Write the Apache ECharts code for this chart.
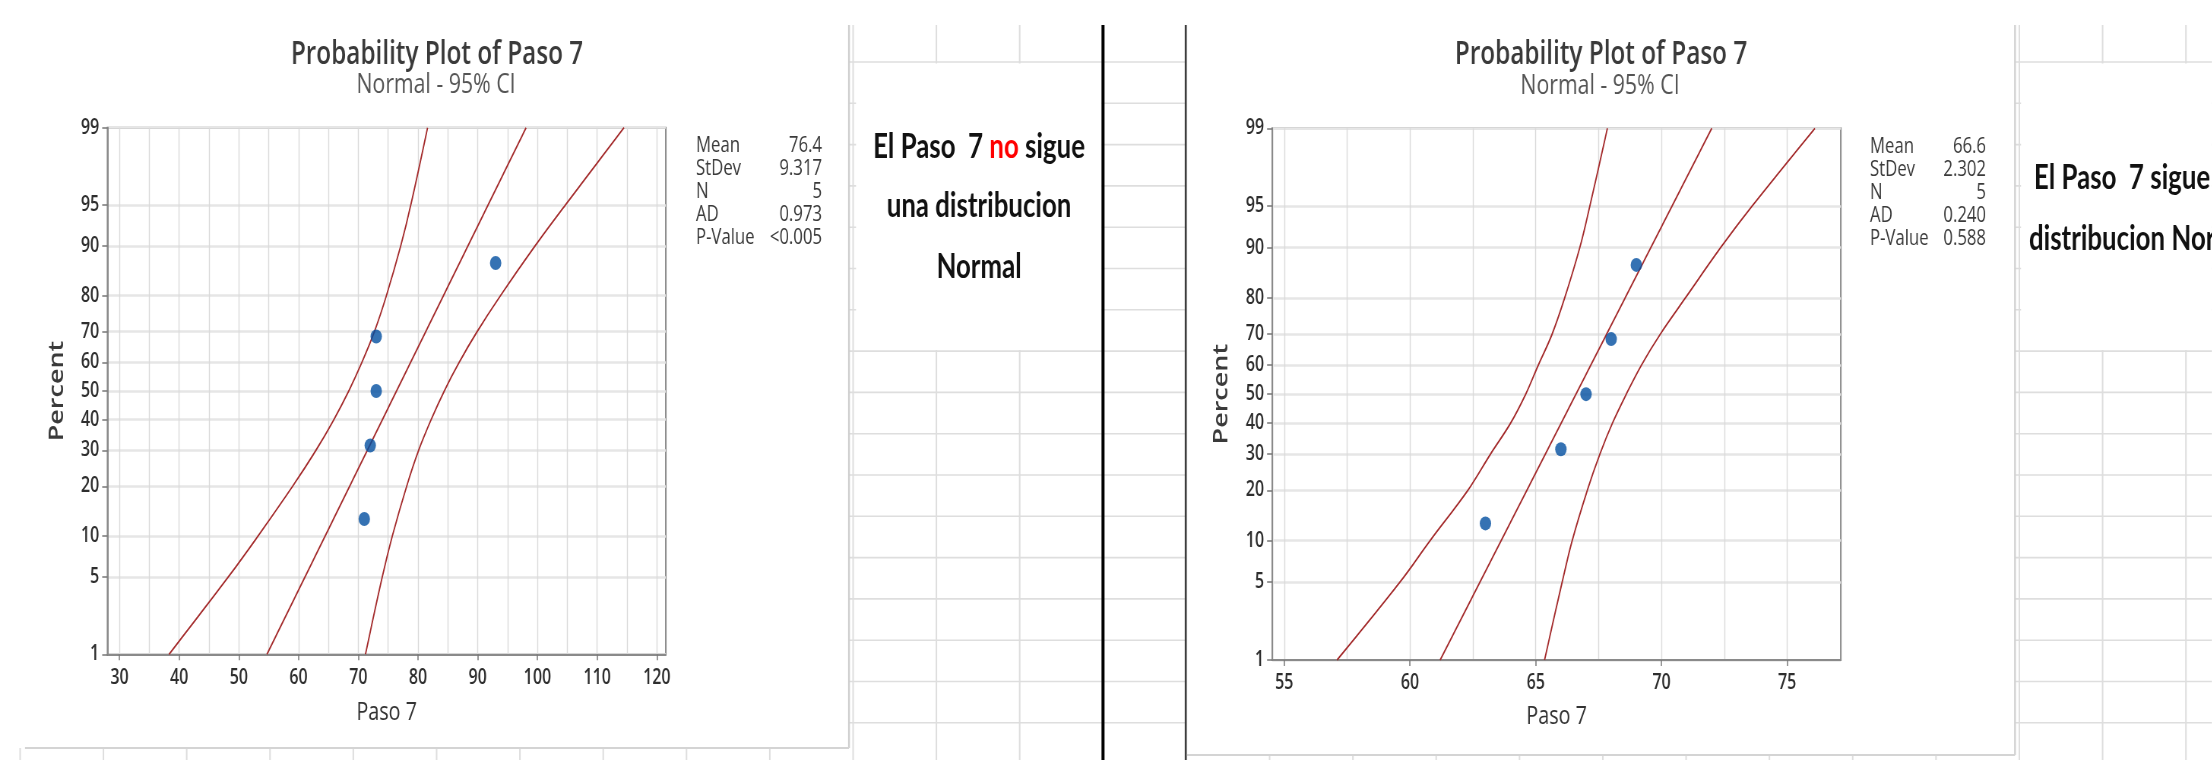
<!DOCTYPE html>
<html><head><meta charset="utf-8">
<script src="https://cdn.jsdelivr.net/npm/echarts@6/dist/echarts.min.js"></script>
<style>
html,body{margin:0;padding:0;overflow:hidden;background:#fff;width:2212px;height:760px}
#c{width:2911px;height:760px;transform:scaleX(0.76);transform-origin:0 0}
</style>
</head><body><div id="c"></div>
<script>
// ---------------- data ----------------
const PCT_TICKS = [1, 5, 10, 20, 30, 40, 50, 60, 70, 80, 90, 95, 99];
const LEFT_X_TICKS = [30, 40, 50, 60, 70, 80, 90, 100, 110, 120];
const LEFT_X_GRID = [30, 35, 40, 45, 50, 55, 60, 65, 70, 75, 80, 85, 90, 95, 100, 105, 110, 115, 120];
const RIGHT_X_TICKS = [55, 60, 65, 70, 75];
const RIGHT_X_GRID = [55, 57.5, 60, 62.5, 65, 67.5, 70, 72.5, 75];

const PLOT_PCT = [12.9, 31.5, 50, 68.5, 87.1];
const LEFT_VALUES = [71, 72, 73, 73, 93];
const RIGHT_VALUES = [63, 66, 67, 68, 69];

const FIT_PCT = [1, 99];
const LEFT_FIT = [54.7, 98.1];
const RIGHT_FIT = [61.2, 72.0];

// CI bounds read at each PCT_TICKS level
const LEFT_CI_LOW  = [38.3, 48.2, 53.2, 59.0, 62.9, 65.9, 68.4, 70.6, 72.7, 74.7, 77.1, 78.8, 81.6];
const LEFT_CI_HIGH = [71.2, 74.0, 75.7, 78.1, 80.1, 82.2, 84.4, 86.9, 89.9, 93.8, 99.6, 104.7, 114.5];
const RIGHT_CI_LOW  = [57.1, 59.6, 60.8, 62.3, 63.2, 64.0, 64.6, 65.1, 65.65, 66.15, 66.75, 67.15, 67.85];
const RIGHT_CI_HIGH = [65.35, 66.05, 66.45, 67.05, 67.55, 68.05, 68.6, 69.2, 69.95, 70.95, 72.35, 73.6, 76.1];

const STAT_LABELS = ['Mean', 'StDev', 'N', 'AD', 'P-Value'];
const LEFT_STATS = ['76.4', '9.317', '5', '0.973', '<0.005'];
const RIGHT_STATS = ['66.6', '2.302', '5', '0.240', '0.588'];

const TITLE = 'Probability Plot of Paso 7';
const SUBTITLE = 'Normal - 95% CI';
const X_NAME = 'Paso 7';
const Y_NAME = 'Percent';

// ---------------- helpers ----------------
function probit(p){
  const a=[-3.969683028665376e+01,2.209460984245205e+02,-2.759285104469687e+02,1.383577518672690e+02,-3.066479806614716e+01,2.506628277459239e+00];
  const b=[-5.447609879822406e+01,1.615858368580409e+02,-1.556989798598866e+02,6.680131188771972e+01,-1.328068155288572e+01];
  const c=[-7.784894002430293e-03,-3.223964580411365e-01,-2.400758277161838e+00,-2.549732539343734e+00,4.374664141464968e+00,2.938163982698783e+00];
  const d=[7.784695709041462e-03,3.224671290700398e-01,2.445134137142996e+00,3.754408661907416e+00];
  const pl=0.02425, ph=1-pl; let q, r;
  if(p<pl){q=Math.sqrt(-2*Math.log(p));return (((((c[0]*q+c[1])*q+c[2])*q+c[3])*q+c[4])*q+c[5])/((((d[0]*q+d[1])*q+d[2])*q+d[3])*q+1);}
  if(p<=ph){q=p-0.5;r=q*q;return (((((a[0]*r+a[1])*r+a[2])*r+a[3])*r+a[4])*r+a[5])*q/(((((b[0]*r+b[1])*r+b[2])*r+b[3])*r+b[4])*r+1);}
  q=Math.sqrt(-2*Math.log(1-p));return -(((((c[0]*q+c[1])*q+c[2])*q+c[3])*q+c[4])*q+c[5])/((((d[0]*q+d[1])*q+d[2])*q+d[3])*q+1);
}
const Z = p => probit(p / 100);
const Z_TICKS = PCT_TICKS.map(Z);
const Z_MIN = Z(1), Z_MAX = Z(99);
function pctLabel(v){
  for (let i = 0; i < Z_TICKS.length; i++) if (Math.abs(Z_TICKS[i] - v) < 1e-6) return String(PCT_TICKS[i]);
  return '';
}

const S = 0.76;            // horizontal squeeze of the reference
const X = v => v / S;      // full-image x -> logical x

const MT_FONT = '"Open Sans", "Noto Sans", sans-serif';
const XL_FONT = 'Lato, "Open Sans", sans-serif';
const LINE_RED = '#a3292a';
const DOT_BLUE = '#024fa0';
const FRAME = '#8a8a8a';

// ---------------- axes ----------------
function xAxes(gi, min, max, ticks, gridVals, nameGap){
  return [
    { gridIndex: gi, type: 'value', min, max, position: 'bottom',
      name: X_NAME, nameLocation: 'middle', nameGap,
      nameTextStyle: { fontFamily: MT_FONT, fontSize: 26, color: '#333' },
      axisLine: { show: true, onZero: false, lineStyle: { color: FRAME, width: 2 } },
      axisTick: { show: true, length: 6, customValues: ticks, lineStyle: { color: '#777', width: 1.5 } },
      axisLabel: { customValues: ticks, margin: 13, fontFamily: MT_FONT, fontSize: 21, fontWeight: 600, color: '#2e2e2e' },
      splitLine: { show: false } },
    { gridIndex: gi, type: 'value', min, max, position: 'bottom',
      axisLine: { show: false }, axisLabel: { show: false },
      axisTick: { show: false, customValues: gridVals },
      splitLine: { show: true, lineStyle: { color: '#dadada', width: 1.4 } } }
  ];
}
function yAxis(gi){
  return { gridIndex: gi, type: 'value', min: Z_MIN, max: Z_MAX,
    name: Y_NAME, nameLocation: 'middle', nameGap: 53, nameRotate: 90,
    nameTextStyle: { fontFamily: MT_FONT, fontSize: 27, fontWeight: 600, color: '#3a3a3a' },
    axisLine: { show: true, onZero: false, lineStyle: { color: FRAME, width: 2 } },
    axisTick: { show: true, length: 7, customValues: Z_TICKS, lineStyle: { color: '#777', width: 1.5 } },
    axisLabel: { customValues: Z_TICKS, formatter: pctLabel, margin: 11, fontFamily: MT_FONT, fontSize: 21, fontWeight: 600, color: '#2e2e2e' },
    splitLine: { show: true, lineStyle: { color: '#e6e6e6', width: 2.6 } } };
}

function plotSeries(xi, yi, values, fit, low, high){
  const lineBase = { type: 'line', xAxisIndex: xi, yAxisIndex: yi, showSymbol: false, symbol: 'none',
    smooth: 0.35, lineStyle: { color: LINE_RED, width: 1.8 }, z: 3, silent: true };
  return [
    Object.assign({}, lineBase, { name: 'CI low', data: PCT_TICKS.map((p, i) => [low[i], Z(p)]) }),
    Object.assign({}, lineBase, { name: 'CI high', data: PCT_TICKS.map((p, i) => [high[i], Z(p)]) }),
    Object.assign({}, lineBase, { name: 'Fit', smooth: false, data: FIT_PCT.map((p, i) => [fit[i], Z(p)]) }),
    { type: 'scatter', name: 'Paso 7', xAxisIndex: xi, yAxisIndex: yi, symbol: 'circle', symbolSize: [15, 14],
      itemStyle: { color: DOT_BLUE }, z: 5,
      data: values.map((v, i) => [v, Z(PLOT_PCT[i])]) }
  ];
}

// ---------------- background graphics (spreadsheet) ----------------
const G = [];
const ROW0 = 62, ROWH = 41.3, COL0 = 20.1, COLW = 83.3;
for (let k = 0; k < 17; k++) {
  const y = ROW0 + k * ROWH;
  G.push({ type: 'line', z: -30, silent: true, shape: { x1: 0, y1: y, x2: X(2212), y2: y }, style: { stroke: '#dedede', lineWidth: 1.6 } });
}
for (let k = 0; k < 27; k++) {
  const x = X(COL0 + k * COLW);
  G.push({ type: 'line', z: -30, silent: true, shape: { x1: x, y1: 25, x2: x, y2: 760 }, style: { stroke: '#dedede', lineWidth: 2 } });
}
function rect(x1, y1, x2, y2, z){
  G.push({ type: 'rect', z: z || -20, silent: true, shape: { x: X(x1), y: y1, width: X(x2) - X(x1), height: y2 - y1 }, style: { fill: '#ffffff' } });
}
function vline(x, y1, y2, color, w){
  G.push({ type: 'line', z: -10, silent: true, shape: { x1: X(x), y1, x2: X(x), y2 }, style: { stroke: color, lineWidth: w } });
}
function hline(x1, x2, y, color, w){
  G.push({ type: 'line', z: -10, silent: true, shape: { x1: X(x1), y1: y, x2: X(x2), y2: y }, style: { stroke: color, lineWidth: w } });
}
// left chart panel
rect(0, 0, 849, 748);
vline(849, 25, 748, '#cfcfcf', 2.4);
hline(25, 849, 748, '#d4d4d4', 2);
// left text box
rect(856, 63.5, 1101.5, 350);
// separators
vline(1103, 25, 760, '#000000', 4);
// right chart panel
rect(1187, 0, 2015, 755);
vline(1185.7, 25, 760, '#3d3d3d', 2.6);
vline(2015, 25, 755, '#d2d2d2', 2.4);
hline(1187, 2015, 755, '#d4d4d4', 2);
// right text box
rect(2021, 63.5, 2212, 350);

// ---------------- texts ----------------
function txt(x, y, text, size, color, align, weight){
  G.push({ type: 'text', z: 10, silent: true, x: X(x), y,
    style: { text, fontFamily: MT_FONT, fontSize: size, fontWeight: weight || 'normal', fill: color,
      align: align || 'center', verticalAlign: 'middle', textAlign: align || 'center', textVerticalAlign: 'middle' } });
}
// titles
txt(437, 55, TITLE, 32, '#3a3a3a', 'center', 600);
txt(436, 85, SUBTITLE, 28, '#555555');
txt(1601, 55, TITLE, 32, '#3a3a3a', 'center', 600);
txt(1600, 86, SUBTITLE, 28, '#555555');
// stats
STAT_LABELS.forEach((lab, i) => {
  const y = 146 + i * 23;
  txt(696, y, lab, 22, '#3a3a3a', 'left');
  txt(822, y, LEFT_STATS[i], 22, '#3a3a3a', 'right');
  txt(1870, y + 1, lab, 22, '#3a3a3a', 'left');
  txt(1986, y + 1, RIGHT_STATS[i], 22, '#3a3a3a', 'right');
});
// comment boxes
const richBase = { fontFamily: XL_FONT, fontSize: 34, fontWeight: 'bold', fill: '#111111' };
function rtxt(x, y, text, align){
  G.push({ type: 'text', z: 10, silent: true, x: X(x), y,
    style: { text, align, verticalAlign: 'middle', textAlign: align, textVerticalAlign: 'middle',
      fontFamily: XL_FONT, fontSize: 34, fontWeight: 'bold', fill: '#111111',
      rich: { b: richBase, r: Object.assign({}, richBase, { fill: '#ff0000' }) } } });
}
rtxt(979, 147, '{b|El Paso  7 }{r|no}{b| sigue}', 'center');
rtxt(979, 206, '{b|una distribucion}', 'center');
rtxt(979, 267, '{b|Normal}', 'center');
rtxt(2034, 178, '{b|El Paso  7 sigue una}', 'left');
rtxt(2029, 239, '{b|distribucion Normal}', 'left');

// ---------------- chart ----------------
const chart = echarts.init(document.getElementById('c'), null, { renderer: 'canvas' });
chart.setOption({
  animation: false,
  backgroundColor: '#ffffff',
  graphic: { elements: G },
  grid: [
    { left: X(107.5), top: 127.7, width: X(665.8) - X(107.5), height: 526.6, show: true,
      backgroundColor: '#ffffff', borderColor: FRAME, borderWidth: 2, containLabel: false },
    { left: X(1272.4), top: 128.3, width: X(1840.8) - X(1272.4), height: 531.7, show: true,
      backgroundColor: '#ffffff', borderColor: FRAME, borderWidth: 2, containLabel: false }
  ],
  xAxis: [].concat(
    xAxes(0, 28, 121.5, LEFT_X_TICKS, LEFT_X_GRID, 45),
    xAxes(1, 54.53, 77.13, RIGHT_X_TICKS, RIGHT_X_GRID, 44)
  ),
  yAxis: [yAxis(0), yAxis(1)],
  series: [].concat(
    plotSeries(0, 0, LEFT_VALUES, LEFT_FIT, LEFT_CI_LOW, LEFT_CI_HIGH),
    plotSeries(2, 1, RIGHT_VALUES, RIGHT_FIT, RIGHT_CI_LOW, RIGHT_CI_HIGH)
  )
});
</script>
</body></html>
